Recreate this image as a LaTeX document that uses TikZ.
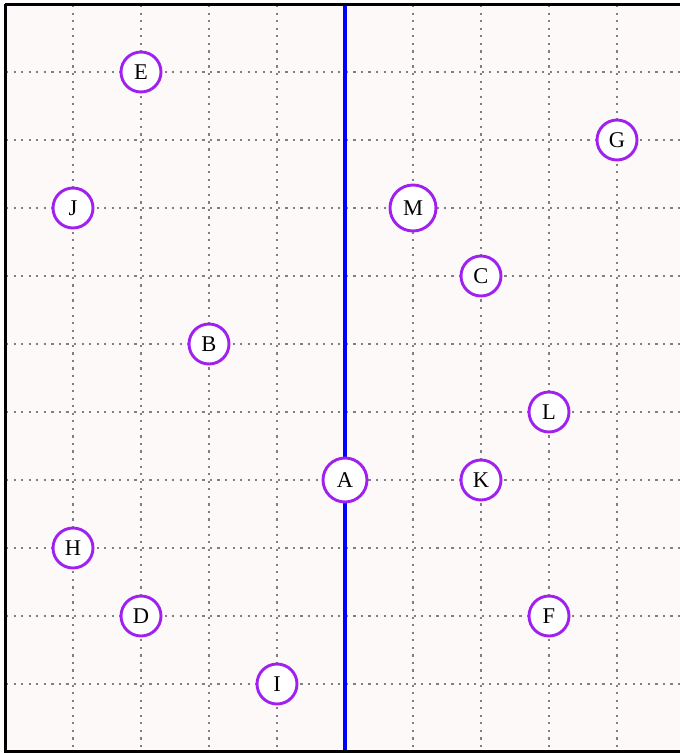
\documentclass[tikz,border=0pt]{standalone}
\usepackage{fontspec}
\setmainfont{Liberation Serif}
\usepackage{xcolor}
\definecolor{bgc}{HTML}{FDF9F9}
\definecolor{nodepurple}{HTML}{A020F0}
\definecolor{gridgray}{HTML}{808080}
\begin{document}
\begin{tikzpicture}[x=1pt,y=-1pt,
  gridline/.style={gridgray, line width=2.2pt, dash pattern=on 2.2pt off 5.35pt},
  vnode/.style={circle, draw=nodepurple, line width=2.9pt, fill=white, minimum size=40pt, inner sep=2pt, font=\fontsize{22.5}{26}\selectfont},
  axisline/.style={blue, line width=4.5pt}]
\useasboundingbox (0,0) rectangle (680,753);
\begin{scope}
\clip (0,0) rectangle (680,753);
\fill[bgc] (5,4) rectangle (690,751);
\foreach \y in {72,140,...,684} \draw[gridline] (6,\y) -- (680,\y);
\foreach \x in {73,141,...,617} \draw[gridline] (\x,5) -- (\x,751);
\coordinate (top) at (345,4);
\coordinate (bot) at (345,753);
\draw[axisline] (top) -- (bot);
\draw[black, line width=3pt] (5,4) -- (690,4) (5,4) -- (5,751) -- (690,751);
\end{scope}
\node[vnode] (E) at (141,72) {E};
\node[vnode] (G) at (617,140) {G};
\node[vnode] (J) at (73,208) {J};
\node[vnode, minimum size=46pt] (M) at (413,208) {M};
\node[vnode] (C) at (481,276) {C};
\node[vnode] (B) at (209,344) {B};
\node[vnode] (L) at (549,412) {L};
\node[vnode, minimum size=44pt] (A) at (345,480) {A};
\node[vnode] (K) at (481,480) {K};
\node[vnode] (H) at (73,548) {H};
\node[vnode] (D) at (141,616) {D};
\node[vnode] (F) at (549,616) {F};
\node[vnode] (I) at (277,684) {I};
\end{tikzpicture}
\end{document}
